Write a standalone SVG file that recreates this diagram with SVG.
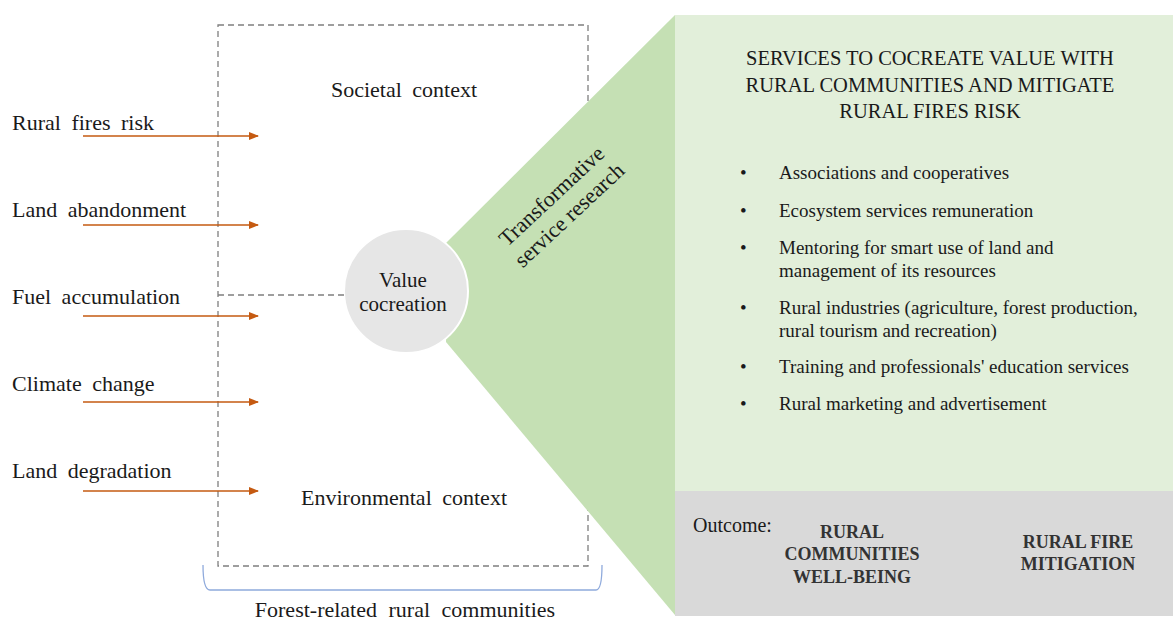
<svg xmlns="http://www.w3.org/2000/svg" width="1173" height="621" viewBox="0 0 1173 621" font-family="'Liberation Serif', 'Times New Roman', serif">
<defs>
<marker id="ah" markerWidth="10" markerHeight="8" refX="9" refY="4" orient="auto" markerUnits="userSpaceOnUse">
<path d="M0,0 L10,4 L0,8 z" fill="#c55a11"/>
</marker>
<style>
text{font-family:"Liberation Serif","Times New Roman",serif;fill:#1a1a1a}
.lbl{font-size:22px;word-spacing:5px}
.ctx{font-size:22px;word-spacing:5px;text-anchor:middle}
.hd{font-size:20.5px;text-anchor:middle}
.li{font-size:19px}
.out{font-size:18px;font-weight:bold;fill:#333;text-anchor:middle}
.arr{stroke:#c55a11;stroke-width:1.3;fill:none;marker-end:url(#ah)}
.dash{stroke:#7f7f7f;stroke-width:1.3;stroke-dasharray:6,4;fill:none}
</style>
</defs>
<rect width="1173" height="621" fill="#ffffff"/>

<g id="context-box">
<rect class="dash" x="218" y="25" width="370" height="541"/>
<text class="ctx" x="404" y="97">Societal context</text>
<text class="ctx" x="404" y="505">Environmental context</text>
</g>

<g id="communities">
<path d="M203,565 Q203,590 210,590 L596,590 Q602,590 602,565" fill="none" stroke="#8faadc" stroke-width="1.3"/>
<text class="ctx" x="405" y="617" style="word-spacing:6px">Forest-related rural communities</text>
</g>

<g id="tsr">
<polygon points="446,243 675,15 675,615 446,342" fill="#c5e0b4"/>
<text font-size="22" text-anchor="middle" transform="translate(560,205) rotate(-43)"><tspan x="0" y="-5">Transformative</tspan><tspan x="0" y="21">service research</tspan></text>
</g>

<g id="services">
<rect x="675" y="15" width="498" height="476" fill="#e2efda"/>
<text class="hd" x="930" y="65">SERVICES TO COCREATE VALUE WITH</text>
<text class="hd" x="930" y="92">RURAL COMMUNITIES AND MITIGATE</text>
<text class="hd" x="930" y="118">RURAL FIRES RISK</text>
<g class="li">
<text class="li" x="740" y="179">•</text><text class="li" x="779" y="179">Associations and cooperatives</text>
<text class="li" x="740" y="217">•</text><text class="li" x="779" y="217">Ecosystem services remuneration</text>
<text class="li" x="740" y="254">•</text><text class="li" x="779" y="254">Mentoring for smart use of land and</text>
<text class="li" x="779" y="277">management of its resources</text>
<text class="li" x="740" y="314">•</text><text class="li" x="779" y="314">Rural industries (agriculture, forest production,</text>
<text class="li" x="779" y="337">rural tourism and recreation)</text>
<text class="li" x="740" y="373">•</text><text class="li" x="779" y="373">Training and professionals' education services</text>
<text class="li" x="740" y="410">•</text><text class="li" x="779" y="410">Rural marketing and advertisement</text>
</g>
</g>

<g id="outcome">
<rect x="675" y="491" width="498" height="125" fill="#d9d9d9"/>
<text font-size="20" x="693" y="532">Outcome:</text>
<text class="out" x="852" y="538">RURAL</text>
<text class="out" x="852" y="560">COMMUNITIES</text>
<text class="out" x="852" y="583">WELL-BEING</text>
<text class="out" x="1078" y="548">RURAL FIRE</text>
<text class="out" x="1078" y="570">MITIGATION</text>
</g>

<g id="value-cocreation">
<circle cx="406" cy="291" r="62" fill="#e6e6e6" stroke="#ffffff" stroke-width="2"/>
<text font-size="21" text-anchor="middle" x="403" y="287">Value</text>
<text font-size="21" text-anchor="middle" x="403" y="311">cocreation</text>
</g>

<g id="drivers">
<text class="lbl" x="12" y="130">Rural fires risk</text>
<text class="lbl" x="12" y="217">Land abandonment</text>
<text class="lbl" x="12" y="304">Fuel accumulation</text>
<text class="lbl" x="12" y="391">Climate change</text>
<text class="lbl" x="12" y="478">Land degradation</text>
</g>

<g id="connectors">
<line class="arr" x1="83" y1="136" x2="258" y2="136"/>
<line class="arr" x1="83" y1="225" x2="258" y2="225"/>
<line class="arr" x1="83" y1="316" x2="258" y2="316"/>
<line class="arr" x1="83" y1="402" x2="258" y2="402"/>
<line class="arr" x1="83" y1="491" x2="258" y2="491"/>
<line class="dash" x1="218" y1="295" x2="344" y2="295"/>
</g>
</svg>
